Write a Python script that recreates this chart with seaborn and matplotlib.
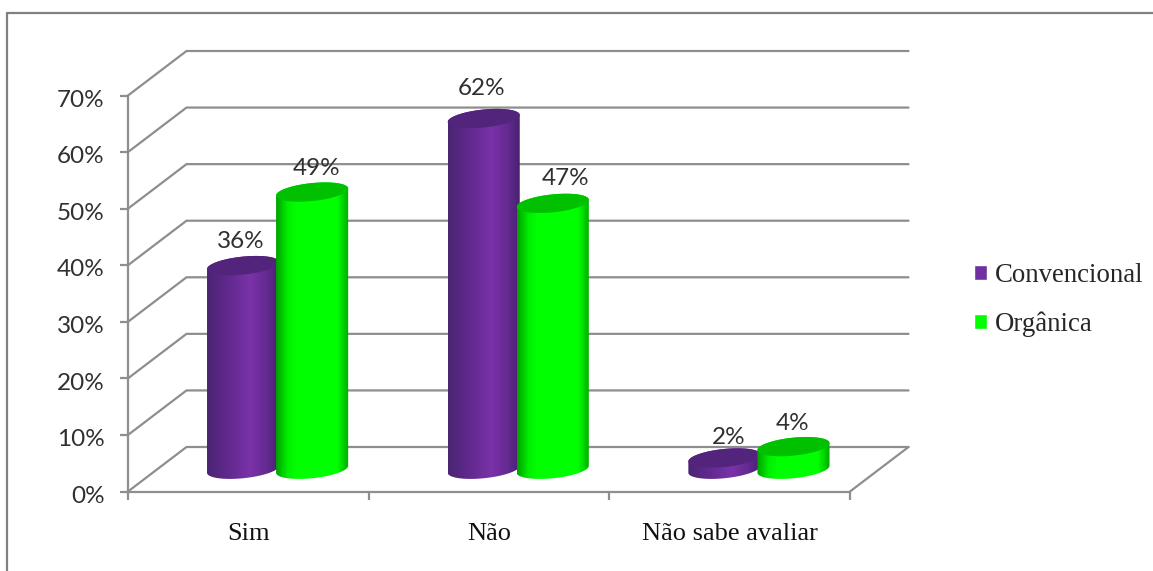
import numpy as np
import pandas as pd
import matplotlib
matplotlib.use("Agg")
import matplotlib.pyplot as plt
import seaborn as sns
from matplotlib.colors import LinearSegmentedColormap
from matplotlib.lines import Line2D
from matplotlib.patches import PathPatch, Polygon
from matplotlib.path import Path
from matplotlib.ticker import PercentFormatter
from matplotlib.transforms import ScaledTranslation

# Survey answers, in percent
categories = ["Sim", "Não", "Não sabe avaliar"]
series_names = ["Convencional", "Orgânica"]
convencional = [36, 62, 2]
organica = [49, 47, 4]
y_ticks = [0, 10, 20, 30, 40, 50, 60, 70]

W, H = 1153, 571
AX_L, AX_R, AX_TOP, AX_BOT = 128, 850, 95.5, 491.5
GRID = "#8e8e8e"
INK = "#303030"
SERIF = "Liberation Serif"
SANS = "Lato"

sns.set_theme(style="white")
plt.rcParams["font.family"] = [SANS, "DejaVu Sans"]

df = pd.DataFrame({
    "categoria": categories * 2,
    "serie": np.repeat(series_names, len(categories)),
    "valor": convencional + organica,
})

fig = plt.figure(figsize=(W / 100, H / 100), dpi=100, facecolor="white")
ax = fig.add_axes([AX_L / W, 1 - AX_BOT / H, (AX_R - AX_L) / W, (AX_BOT - AX_TOP) / H])
ax.patch.set_alpha(0)

sns.barplot(data=df, x="categoria", y="valor", hue="serie", order=categories,
            hue_order=series_names, palette=["#7030a0", "#00ff00"], saturation=1,
            width=0.574, gap=0, dodge=True, ax=ax)

XMIN, XMAX, YMIN, YMAX = -0.5, 2.5, 0, 70
px_x = (XMAX - XMIN) / (AX_R - AX_L)   # data units per pixel
px_y = (YMAX - YMIN) / (AX_BOT - AX_TOP)
depth_x, depth_y = 58.5 * px_x, 44.5 * px_y  # oblique shift of the back wall

# Walls and floor of the oblique box
for tick in y_ticks:
    ax.plot([XMIN, XMIN + depth_x, XMAX + depth_x], [tick, tick + depth_y, tick + depth_y],
            color=GRID, lw=1.6, clip_on=False, zorder=1, solid_joinstyle="miter")
ax.plot([XMAX, XMAX + depth_x], [0, depth_y], color=GRID, lw=1.6, clip_on=False, zorder=1)

# Cylinder colours: shaded side and flat cap
side_maps = [
    LinearSegmentedColormap.from_list("roxo", [(0, "#4a2572"), (0.3, "#62298f"), (0.6, "#7a32a8"),
                                               (0.82, "#642a92"), (1, "#46216c")]),
    LinearSegmentedColormap.from_list("verde", [(0, "#00a000"), (0.16, "#00f000"), (0.28, "#00ff00"),
                                                (0.84, "#00ff00"), (1, "#00a800")]),
]
cap_colors = ["#53247c", "#00c000"]
gradient = np.linspace(0, 1, 256)[None, :]

SEMI_H, SHEAR, OVERHANG = 9.0, 3.5, 1.5


def ellipse_arc(cx, cy, half_w, start, stop):
    t = np.linspace(start, stop, 60)
    return np.column_stack([cx + half_w * np.cos(t),
                            cy + (SEMI_H * np.sin(t) + SHEAR * np.cos(t)) * px_y])


def draw_cylinder(bar, series_idx, z):
    cx = bar.get_x() + bar.get_width() / 2 + depth_x / 2
    half_w = bar.get_width() / 2 + OVERHANG * px_x
    base = depth_y / 2
    top = bar.get_height() + depth_y / 2
    outline = np.vstack([ellipse_arc(cx, base, half_w, np.pi, 2 * np.pi),
                         ellipse_arc(cx, top, half_w, 0, np.pi)])
    clip = PathPatch(Path(np.vstack([outline, outline[:1]]), closed=True),
                     transform=ax.transData, fc="none", ec="none")
    ax.add_patch(clip)
    side = ax.imshow(gradient, cmap=side_maps[series_idx], aspect="auto", zorder=z,
                     extent=[cx - half_w, cx + half_w, base - 12 * px_y, top + 12 * px_y])
    side.set_clip_path(clip)
    cap = ellipse_arc(cx, top, half_w, 0, 2 * np.pi)
    ax.add_patch(Polygon(cap, closed=True, fc=cap_colors[series_idx], ec="none", zorder=z + 0.1))


# Label offsets in pixels from the top of each flat bar
label_shift = [[(27, 46), (27.5, 52), (34, 42.5)],
               [(34, 45.5), (41.5, 47.5), (28, 45)]]

for s_idx, container in enumerate(ax.containers):
    for c_idx, bar in enumerate(container):
        bar.set_visible(False)
        draw_cylinder(bar, s_idx, 3 + s_idx + c_idx * 0.01)
        ax.annotate(f"{int(bar.get_height())}%",
                    xy=(bar.get_x() + bar.get_width() / 2, bar.get_height()),
                    xytext=label_shift[s_idx][c_idx], textcoords="offset pixels",
                    ha="center", va="center", fontsize=17.5, color=INK, zorder=8,
                    annotation_clip=False)

ax.set_xlim(XMIN, XMAX)
ax.set_ylim(YMIN, YMAX)
ax.set_xlabel("")
ax.set_ylabel("")

# Value axis
ax.set_yticks(y_ticks)
ax.yaxis.set_major_formatter(PercentFormatter(decimals=0))
ax.tick_params(axis="y", left=True, length=5.8, width=1.6, color=GRID, pad=11,
               labelsize=17.5, labelcolor=INK)
nudge_down = ScaledTranslation(0, -2 / 72, fig.dpi_scale_trans)
for label in ax.get_yticklabels():
    label.set_transform(label.get_transform() + nudge_down)

# Category axis: ticks on the group boundaries, labels in the middle
ax.set_xticks([-0.5, 0.5, 1.5, 2.5], labels=[])
ax.set_xticks([0, 1, 2], labels=categories, minor=True)
ax.tick_params(axis="x", which="major", bottom=True, length=6, width=1.6, color=GRID)
ax.tick_params(axis="x", which="minor", bottom=False, length=0, pad=22.5, labelsize=19, labelcolor="#111111")
for label in ax.get_xticklabels(minor=True):
    label.set_family(SERIF)

sns.despine(ax=ax)
for side_name in ("left", "bottom"):
    ax.spines[side_name].set_color(GRID)
    ax.spines[side_name].set_linewidth(1.6)
    ax.spines[side_name].set_zorder(2)

sns.move_legend(ax, "center left", bbox_to_anchor=(974 / W, 1 - 300 / H),
                bbox_transform=fig.transFigure, title=None, frameon=False,
                prop={"family": SERIF, "size": 19.3}, handlelength=0.5, handleheight=0.5,
                handletextpad=0.27, labelspacing=0.86, borderpad=0, borderaxespad=0)

# Partial outer frame along the top and left edges
for xs, ys in (((7, W), (13, 13)), ((7, 7), (13, H))):
    fig.add_artist(Line2D([x / W for x in xs], [1 - y / H for y in ys],
                          color="#808080", lw=1.6, transform=fig.transFigure))

fig.savefig("out.png", dpi=100, facecolor="white")
